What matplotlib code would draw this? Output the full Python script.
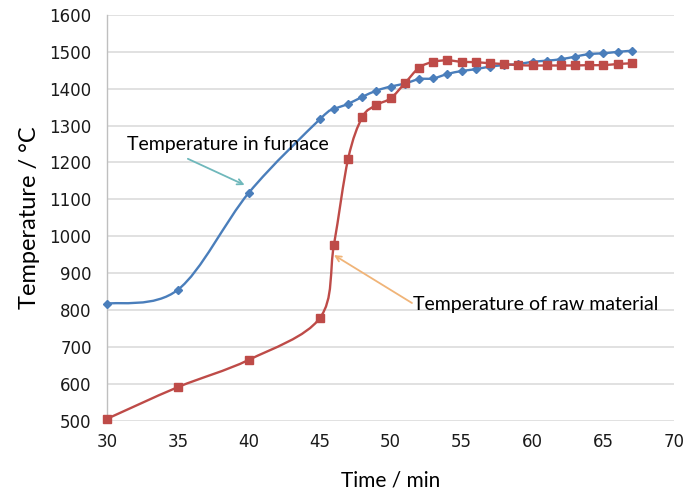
import matplotlib
matplotlib.use("Agg")
import matplotlib.pyplot as plt
from matplotlib.path import Path
from matplotlib.patches import PathPatch
import numpy as np

# ---- data ----
time_min = [30, 35, 40, 45, 46, 47, 48, 49, 50, 51, 52, 53, 54, 55, 56,
            57, 58, 59, 60, 61, 62, 63, 64, 65, 66, 67]
furnace_temp = [817, 855, 1118, 1317, 1344, 1359, 1378, 1395, 1406, 1414,
                1426, 1428, 1440, 1448, 1453, 1460, 1464, 1467, 1473, 1476,
                1480, 1487, 1494, 1496, 1500, 1503]
material_temp = [505, 591, 665, 778, 977, 1210, 1323, 1356, 1374, 1415,
                 1457, 1473, 1477, 1473, 1472, 1469, 1467, 1464, 1463, 1463,
                 1463, 1463, 1464, 1464, 1467, 1469]
x_ticks = [30, 35, 40, 45, 50, 55, 60, 65, 70]
y_ticks = [500, 600, 700, 800, 900, 1000, 1100, 1200, 1300, 1400, 1500, 1600]

BLUE = "#4a7ebb"
RED = "#be4b48"


def smooth_path(xs, ys):
    """Excel-style smoothed line: cubic Bezier through points (Catmull-Rom)."""
    pts = np.column_stack([xs, ys]).astype(float)
    n = len(pts)
    verts = [pts[0]]
    codes = [Path.MOVETO]
    for i in range(n - 1):
        p0 = pts[i - 1] if i > 0 else pts[i]
        p1 = pts[i]
        p2 = pts[i + 1]
        p3 = pts[i + 2] if i + 2 < n else pts[i + 1]
        c1 = p1 + (p2 - p0) / 6.0
        c2 = p2 - (p3 - p1) / 6.0
        verts += [c1, c2, p2]
        codes += [Path.CURVE4] * 3
    return Path(verts, codes)


fig = plt.figure(figsize=(6.86, 4.99), dpi=100)
ax = fig.add_axes([0.156, 0.157, 0.827, 0.813])

ax.set_xlim(30, 70)
ax.set_ylim(500, 1600)
ax.set_xticks(x_ticks)
ax.set_yticks(y_ticks)

ax.grid(axis="y", color="#d9d9d9", linewidth=1.1, zorder=0)
ax.set_axisbelow(True)
for s in ["top", "right", "bottom"]:
    ax.spines[s].set_visible(False)
ax.spines["left"].set_color("#bfbfbf")
ax.spines["left"].set_linewidth(1.0)
ax.tick_params(axis="both", length=0, labelsize=12, colors="#1a1a1a")
ax.tick_params(axis="y", pad=11)
ax.tick_params(axis="x", pad=9)

for ys, col, mk, ms in [(furnace_temp, BLUE, "D", 4.5), (material_temp, RED, "s", 5.5)]:
    patch = PathPatch(smooth_path(time_min, ys), facecolor="none", edgecolor=col,
                      linewidth=1.7, zorder=3)
    ax.add_patch(patch)
    ax.plot(time_min, ys, linestyle="none", marker=mk, markersize=ms,
            color=col, markeredgecolor=col, zorder=4, clip_on=False)

ax.set_xlabel("Time / min", fontsize=15, family="Lato", color="#000000", labelpad=14)
ax.set_ylabel("Temperature / °C", fontsize=17, family="Lato", color="#000000", labelpad=7)

ax.text(31.4, 1250, "Temperature in furnace", fontsize=14, family="Lato",
        color="#000000", ha="left", va="center")
ax.annotate("", xy=(39.7, 1139), xytext=(35.7, 1210),
            arrowprops=dict(arrowstyle="->", color="#6fb8bb", lw=1.3,
                            shrinkA=0, shrinkB=0))
ax.text(51.6, 814, "Temperature of raw material", fontsize=14, family="Lato",
        color="#000000", ha="left", va="center")
ax.annotate("", xy=(46.0, 949), xytext=(51.5, 819),
            arrowprops=dict(arrowstyle="->", color="#f0b478", lw=1.3,
                            shrinkA=0, shrinkB=0))

fig.savefig("out.png", dpi=100)
